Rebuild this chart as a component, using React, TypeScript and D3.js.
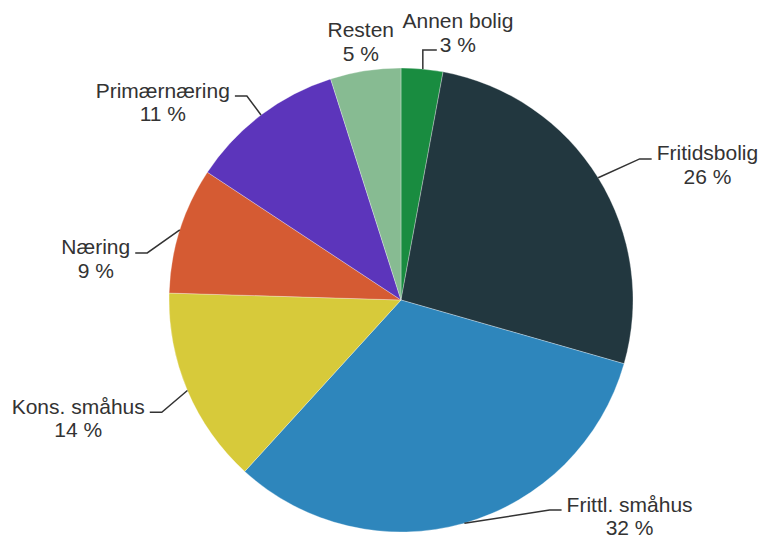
import { useEffect, useRef } from "react";
import * as d3 from "d3";

const categories = ["Annen bolig", "Fritidsbolig", "Frittl. småhus", "Kons. småhus", "Næring", "Primærnæring", "Resten"];
const shares = [2.9, 26.5, 32.3, 13.7, 8.8, 10.8, 4.9];
const shareLabels = ["3 %", "26 %", "32 %", "14 %", "9 %", "11 %", "5 %"];
const colors = ["#198c40", "#22373f", "#2e86bc", "#d7ca3a", "#d55b33", "#5c35bb", "#87bb92"];

// how each label is attached, and small hand tweaks so labels sit like the original
const labelMode = ["vertical", "elbow", "elbow", "elbow", "elbow", "elbow", "none"];
const labelNudge: [number, number][] = [[-2, 11], [16, -3], [77, -42], [2, 10], [-4, 32], [4, 5], [0, 0]];

export default function App() {
  const svgRef = useRef<SVGSVGElement | null>(null);

  useEffect(() => {
    if (!svgRef.current) return;
    const svg = d3.select(svgRef.current);
    svg.selectAll("*").remove();

    const width = 760;
    const height = 535;
    const cx = 401;
    const cy = 300;
    const r = 232;
    const labelR = 262;
    const lineH = 23.5;
    const textColor = "#333333";

    svg.attr("viewBox", `0 0 ${width} ${height}`);

    const arcs = d3.pie<number>().sort(null).value((d) => d)(shares);
    const arc = d3.arc<d3.PieArcDatum<number>>().innerRadius(0).outerRadius(r);

    const g = svg.append("g").attr("transform", `translate(${cx},${cy})`);
    g.selectAll("path")
      .data(arcs)
      .join("path")
      .attr("d", arc)
      .attr("fill", (_, i) => colors[i])
      .attr("stroke", "#ffffff")
      .attr("stroke-opacity", 0.5)
      .attr("stroke-width", 0.6);

    const polar = (a: number, rad: number): [number, number] => [cx + rad * Math.sin(a), cy - rad * Math.cos(a)];

    const labels = svg.append("g")
      .attr("font-family", "'Liberation Sans', Arial, sans-serif")
      .attr("font-size", 21)
      .attr("fill", textColor);
    const leaders = svg.append("g").attr("fill", "none").attr("stroke", textColor).attr("stroke-width", 1.5);

    arcs.forEach((d, i) => {
      const mid = (d.startAngle + d.endAngle) / 2;
      const right = mid < Math.PI;
      const start = polar(mid, r);
      const base = polar(mid, labelR);
      const elbow: [number, number] = [base[0] + labelNudge[i][0], base[1] + labelNudge[i][1]];

      const t = labels.append("text").attr("text-anchor", "middle");
      const t1 = t.append("tspan").text(categories[i]);
      const t2 = t.append("tspan").text(shareLabels[i]);
      const w1 = (t1.node() as SVGTSpanElement).getComputedTextLength();
      const w2 = (t2.node() as SVGTSpanElement).getComputedTextLength();
      const w = Math.max(w1, w2);

      let x = base[0];
      let y1 = base[1] - 3.7;

      if (labelMode[i] === "elbow") {
        const end = elbow[0] + (right ? 12 : -12);
        leaders.append("path").attr("d", d3.line()([start, elbow, [end, elbow[1]]]));
        x = right ? end + 5 + w / 2 : end - 5 - w / 2;
        y1 = elbow[1] + 1.5;
      } else if (labelMode[i] === "vertical") {
        const ex = start[0] + 0.7;
        const end = ex + 14;
        leaders.append("path").attr("d", d3.line()([[ex, start[1]], [ex, elbow[1]], [end, elbow[1]]]));
        x = end + 3 + w2 / 2;
        y1 = elbow[1] + 1.7 - lineH;
      }

      t1.attr("x", x).attr("y", y1);
      t2.attr("x", x).attr("y", y1 + lineH);
    });
  }, []);

  return (
    <svg
      ref={svgRef}
      width={760}
      height={535}
      style={{ position: "absolute", left: 0, top: 0, background: "#ffffff", display: "block" }}
    />
  );
}
